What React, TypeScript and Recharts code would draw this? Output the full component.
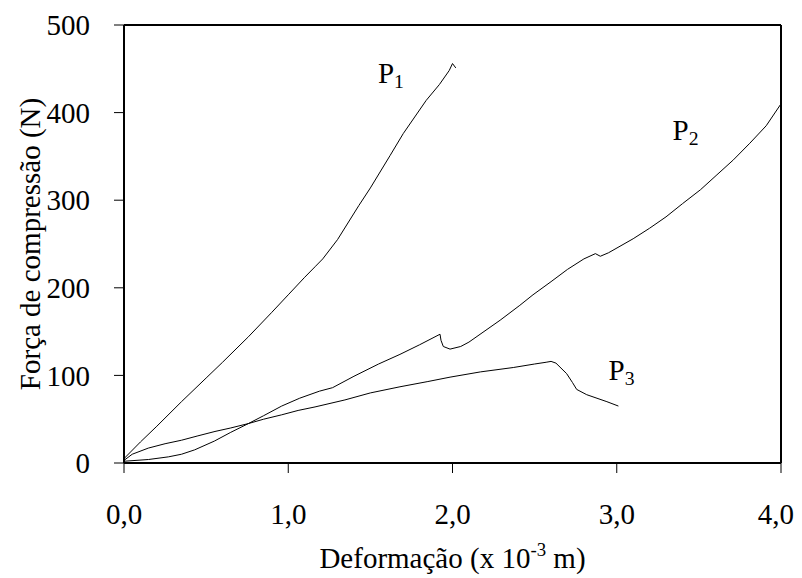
import React from 'react';
import { LineChart, Line, XAxis, YAxis, ReferenceLine, ReferenceDot, Label } from 'recharts';

// Curva P1
const p1X = [0, 0.1, 0.2, 0.35, 0.5, 0.6, 0.757, 0.9, 1.0, 1.1, 1.163, 1.21, 1.3, 1.43, 1.5, 1.62, 1.7, 1.84, 1.92, 1.98, 2.0, 2.02];
const p1Y = [5, 24, 42, 70, 97, 115, 144, 172, 192, 212, 224, 233, 255, 294, 314, 351, 376, 414, 432, 448, 456, 451];

// Curva P2
const p2X = [0, 0.15, 0.27, 0.35, 0.43, 0.55, 0.65, 0.757, 0.85, 0.96, 1.07, 1.19, 1.27, 1.4, 1.55, 1.68, 1.8, 1.924, 1.93, 1.944, 1.985, 2.05, 2.1, 2.29, 2.41, 2.49, 2.6, 2.7, 2.8, 2.87, 2.9, 2.95, 3.1, 3.2, 3.3, 3.4, 3.51, 3.61, 3.71, 3.81, 3.91, 4.0];
const p2Y = [2, 4, 7, 10, 15, 25, 35, 45, 54, 65, 74, 82, 86, 99, 113, 124, 135, 147, 140, 133, 130, 133, 138, 163, 180, 192, 207, 221, 233, 239, 236, 240, 256, 268, 281, 296, 312, 329, 346, 365, 385, 410];

// Curva P3
const p3X = [0, 0.05, 0.148, 0.25, 0.35, 0.45, 0.554, 0.65, 0.757, 0.85, 0.96, 1.06, 1.163, 1.345, 1.5, 1.68, 1.85, 1.985, 2.17, 2.37, 2.5, 2.57, 2.6, 2.63, 2.695, 2.73, 2.756, 2.817, 2.94, 3.01];
const p3Y = [3, 10, 17, 22, 26, 31, 36, 40, 45, 50, 55, 60, 64, 72, 80, 87, 93, 98, 104, 109, 113, 115, 116, 114, 102, 92, 84, 78, 70, 65];

const xTicks = [0, 1, 2, 3, 4];
const yTicks = [0, 100, 200, 300, 400, 500];

// Rótulos das curvas
const curveNames = ['1', '2', '3'];
const curveLabelX = [1.546, 3.34, 2.95];
const curveLabelY = [434, 369, 95];

const toData = (xs: number[], ys: number[]) => xs.map((x, i) => ({ x, y: ys[i] }));
const series = [toData(p1X, p1Y), toData(p2X, p2Y), toData(p3X, p3Y)];

const FONT = '"Liberation Serif", "Times New Roman", serif';
const FS = 29;

const CurveLabel = ({ viewBox, sub }: any) => (
  <text x={viewBox.x} y={viewBox.y} fontFamily={FONT} fontSize={FS} fill="#000">
    P<tspan fontSize={FS * 0.68} dy={5}>{sub}</tspan>
  </text>
);

const YTitle = ({ viewBox }: any) => {
  const cx = viewBox.x + 22;
  const cy = viewBox.y + viewBox.height / 2;
  return (
    <text x={cx} y={cy} transform={`rotate(-90, ${cx}, ${cy})`} textAnchor="middle" dominantBaseline="central"
      fontFamily={FONT} fontSize={FS} fill="#000">
      Força de compressão (N)
    </text>
  );
};

const XTitle = ({ viewBox }: any) => {
  const cx = viewBox.x + viewBox.width / 2;
  return (
    <text x={cx} y={viewBox.y + 105} textAnchor="middle" fontFamily={FONT} fontSize={FS} fill="#000">
      Deformação (x 10<tspan fontSize={FS * 0.65} dy={-12}>-3</tspan>
      <tspan dy={12}> m)</tspan>
    </text>
  );
};

const tickStyle = { fontFamily: FONT, fontSize: FS, fill: '#000' };

export default function App() {
  return (
    <LineChart width={786} height={570} margin={{ top: 17, right: 13, left: 0, bottom: 0 }}>
      <XAxis
        type="number"
        dataKey="x"
        domain={[0, 4]}
        ticks={xTicks}
        tickFormatter={(v: number) => v.toFixed(1).replace('.', ',')}
        height={115}
        tickSize={10}
        tickMargin={30}
        tick={tickStyle}
        axisLine={{ stroke: '#000', strokeWidth: 2 }}
        tickLine={{ stroke: '#000', strokeWidth: 1 }}
        allowDataOverflow
      >
        <Label content={<XTitle />} />
      </XAxis>
      <YAxis
        type="number"
        domain={[0, 500]}
        ticks={yTicks}
        width={116}
        tickSize={10}
        tickMargin={24}
        tick={tickStyle}
        axisLine={{ stroke: '#000', strokeWidth: 2 }}
        tickLine={{ stroke: '#000', strokeWidth: 1 }}
      >
        <Label content={<YTitle />} />
      </YAxis>
      <ReferenceLine y={500} stroke="#000" strokeWidth={2} />
      <ReferenceLine x={4} stroke="#000" strokeWidth={2} />
      {series.map((d, i) => (
        <Line
          key={i}
          data={d}
          dataKey="y"
          type="linear"
          stroke="#000"
          strokeWidth={1}
          dot={false}
          isAnimationActive={false}
        />
      ))}
      {curveNames.map((n, i) => (
        <ReferenceDot
          key={n}
          x={curveLabelX[i]}
          y={curveLabelY[i]}
          r={0}
          stroke="none"
          fill="none"
          label={<CurveLabel sub={n} />}
        />
      ))}
    </LineChart>
  );
}
